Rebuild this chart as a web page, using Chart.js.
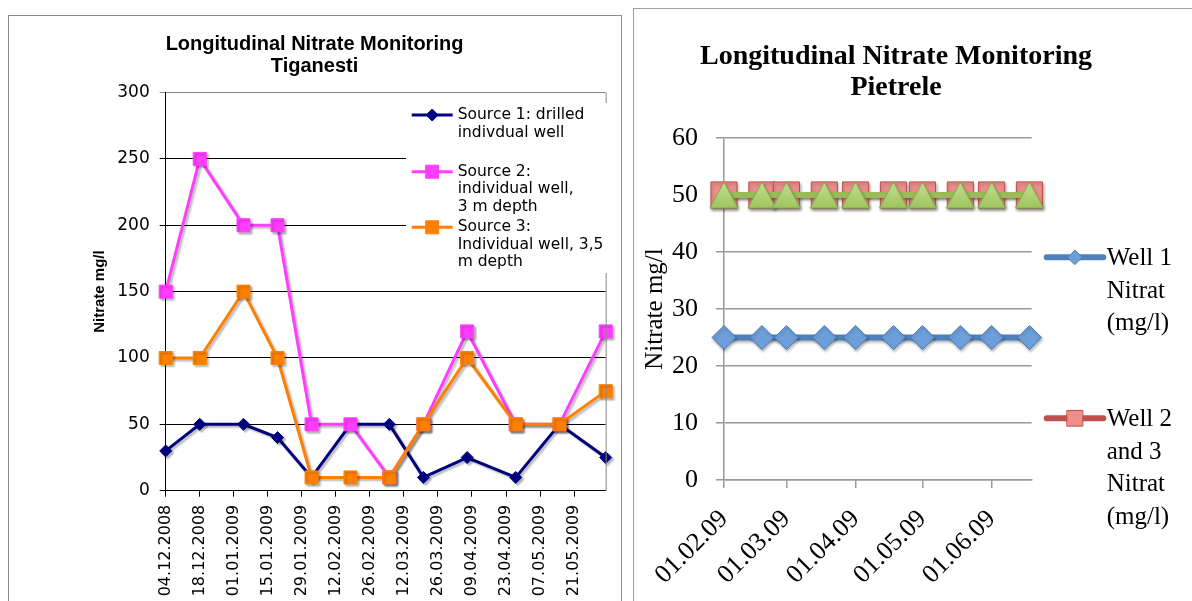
<!DOCTYPE html>
<html>
<head>
<meta charset="utf-8">
<title>Longitudinal Nitrate Monitoring</title>
<script src="https://cdn.jsdelivr.net/npm/chart.js@4.4.1/dist/chart.umd.min.js"></script>
<style>
  html, body { margin: 0; padding: 0; background: #fff; overflow: hidden; }
  body { width: 1192px; height: 601px; position: relative; }
  .frame { position: absolute; border: 1px solid #8c8c8c; box-sizing: border-box; }
  #frameLeft { left: 8px; top: 15px; width: 614px; height: 640px; }
  #frameRight { left: 633px; top: 8px; width: 620px; height: 640px; border-color: #a0a0a0; }
  canvas { position: absolute; }
  #tiganesti { left: 9px; top: 16px; }
  #pietrele { left: 600px; top: 9px; }
</style>
</head>
<body>
<div class="frame" id="frameLeft"></div>
<div class="frame" id="frameRight"></div>
<canvas id="tiganesti" width="611" height="585"></canvas>
<canvas id="pietrele" width="592" height="592"></canvas>
<script>
// Tiganesti: sampling dates and nitrate (mg/l) per source
const tiganestiDates = ['04.12.2008', '18.12.2008', '05.01.2009', '19.01.2009', '02.02.2009', '18.02.2009',
  '06.03.2009', '20.03.2009', '07.04.2009', '27.04.2009', '15.05.2009', '03.06.2009'];
const source1 = [30, 50, 50, 40, 10, 50, 50, 10, 25, 10, 50, 25];
const source2 = [150, 250, 200, 200, 50, 50, 10, 50, 120, 50, 50, 120];
const source3 = [100, 100, 150, 100, 10, 10, 10, 50, 100, 50, 50, 75];
const tiganestiTicks = ['04.12.2008', '18.12.2008', '01.01.2009', '15.01.2009', '29.01.2009', '12.02.2009',
  '26.02.2009', '12.03.2009', '26.03.2009', '09.04.2009', '23.04.2009', '07.05.2009', '21.05.2009'];
const tiganestiLegend = [
  ['Source 1: drilled', 'indivdual well'],
  ['Source 2:', 'individual well,', '3 m depth'],
  ['Source 3:', 'Individual well, 3,5', 'm depth']
];
const tiganestiTitle = ['Longitudinal Nitrate Monitoring', 'Tiganesti'];

// Pietrele
const pietreleDates = ['01.02.09', '18.02.09', '01.03.09', '18.03.09', '01.04.09', '18.04.09',
  '01.05.09', '18.05.09', '01.06.09', '18.06.09'];
const well1 = [25, 25, 25, 25, 25, 25, 25, 25, 25, 25];
const well23 = [50, 50, 50, 50, 50, 50, 50, 50, 50, 50];
const well23b = [50, 50, 50, 50, 50, 50, 50, 50, 50, 50];
const pietreleTicks = ['01.02.09', '01.03.09', '01.04.09', '01.05.09', '01.06.09'];
const pietreleLegend = [
  ['Well 1', 'Nitrat', '(mg/l)'],
  ['Well 2', 'and 3', 'Nitrat', '(mg/l)']
];
const pietreleTitle = ['Longitudinal Nitrate Monitoring', 'Pietrele'];

// day number of a dd.mm.yy(yy) string
function toDay(s) {
  const [d, m, y] = s.split('.').map(Number);
  return Date.UTC(y < 100 ? 2000 + y : y, m - 1, d) / 864e5;
}
const daysFrom = (list, base) => list.map((s) => toDay(s) - toDay(base));
const points = (days, values) => days.map((x, i) => ({ x: x, y: values[i] }));

const tigDays = daysFrom(tiganestiDates, tiganestiDates[0]);
const tigTickDays = daysFrom(tiganestiTicks, tiganestiDates[0]);
const pieDays = daysFrom(pietreleDates, pietreleDates[0]);
const pieTickDays = daysFrom(pietreleTicks, pietreleDates[0]);

// triangle marker centred on its box (chart.js centres the built-in one on the centroid)
function triangleMarker(w, h, fill, stroke) {
  const c = document.createElement('canvas');
  c.width = w + 2;
  c.height = h + 2;
  const g = c.getContext('2d');
  const grad = g.createLinearGradient(0, 1, 0, h + 1);
  grad.addColorStop(0, '#c3dd93');
  grad.addColorStop(1, fill);
  g.fillStyle = grad;
  g.strokeStyle = stroke;
  g.lineWidth = 1;
  g.beginPath();
  g.moveTo(c.width / 2, 1);
  g.lineTo(w + 1, h + 1);
  g.lineTo(1, h + 1);
  g.closePath();
  g.fill();
  g.stroke();
  return c;
}

// soft grey drop shadow under lines and markers, like the office charts
const lineShadow = {
  id: 'lineShadow',
  beforeDatasetDraw(chart, args, opts) {
    const ctx = chart.ctx;
    ctx.save();
    ctx.shadowColor = opts.color;
    ctx.shadowBlur = opts.blur;
    ctx.shadowOffsetX = opts.x;
    ctx.shadowOffsetY = opts.y;
  },
  afterDatasetDraw(chart) {
    chart.ctx.restore();
  }
};

// legend with wrapped labels, placed by hand
const wrapLegend = {
  id: 'wrapLegend',
  afterDraw(chart, args, opts) {
    const ctx = chart.ctx;
    const area = chart.chartArea;
    ctx.save();
    if (opts.border) {
      ctx.strokeStyle = opts.border;
      ctx.lineWidth = 1;
      ctx.beginPath();
      ctx.moveTo(area.right + 0.5, area.top);
      ctx.lineTo(area.right + 0.5, area.bottom);
      ctx.stroke();
    }
    if (opts.box) {
      ctx.fillStyle = '#fff';
      ctx.fillRect(opts.box.x, opts.box.y, opts.box.w, opts.box.h);
    }
    opts.items.forEach((item) => {
      const ds = chart.data.datasets[item.dataset];
      const cx = opts.x + opts.sampleWidth / 2;
      ctx.strokeStyle = ds.borderColor;
      ctx.lineWidth = ds.borderWidth;
      ctx.lineCap = opts.lineCap;
      ctx.beginPath();
      ctx.moveTo(opts.x, item.y);
      ctx.lineTo(opts.x + opts.sampleWidth, item.y);
      ctx.stroke();
      ctx.fillStyle = ds.pointBackgroundColor || ds.backgroundColor;
      ctx.strokeStyle = ds.pointBorderColor || ds.borderColor;
      ctx.lineWidth = 1;
      Chart.helpers.drawPoint(ctx, {
        pointStyle: ds.pointStyle, rotation: 0, borderWidth: 1,
        radius: ds.pointRadius * opts.pointScale
      }, cx, item.y);
      ctx.fillStyle = '#000';
      ctx.font = opts.font;
      ctx.textAlign = 'left';
      ctx.textBaseline = 'middle';
      item.lines.forEach((line, i) => {
        ctx.fillText(line, opts.x + opts.sampleWidth + opts.gap, item.y + opts.textShift + i * opts.lineHeight);
      });
    });
    ctx.restore();
  }
};

new Chart(document.getElementById('tiganesti'), {
  type: 'line',
  data: {
    datasets: [
      {
        label: tiganestiLegend[0].join(' '),
        data: points(tigDays, source1),
        borderColor: '#000080', backgroundColor: '#000080',
        pointStyle: 'rectRot', pointRadius: 6, pointBorderWidth: 1,
        borderWidth: 3, order: 3, clip: false
      },
      {
        label: tiganestiLegend[1].join(' '),
        data: points(tigDays, source2),
        borderColor: '#ff3cff', backgroundColor: '#ff3cff',
        pointStyle: 'rect', pointRadius: 9.2, pointBorderWidth: 1,
        borderWidth: 3, order: 2, clip: false
      },
      {
        label: tiganestiLegend[2].join(' '),
        data: points(tigDays, source3),
        borderColor: '#ff8000', backgroundColor: '#ff8000',
        pointStyle: 'rect', pointRadius: 9.2, pointBorderWidth: 1,
        borderWidth: 3, order: 1, clip: false
      }
    ]
  },
  options: {
    responsive: false,
    animation: false,
    events: [],
    layout: { padding: 0 },
    scales: {
      x: {
        type: 'linear',
        min: 0,
        max: tigDays[tigDays.length - 1],
        afterBuildTicks: (scale) => { scale.ticks = tigTickDays.map((value) => ({ value })); },
        afterFit: (scale) => { scale.height = 110.3; },
        grid: { drawOnChartArea: false, tickLength: 6, color: '#000' },
        border: { color: '#000' },
        ticks: {
          autoSkip: false, minRotation: 90, maxRotation: 90, padding: 8, color: '#000',
          font: { family: 'DejaVu Sans', size: 16 },
          callback: (value, index) => tiganestiTicks[index]
        }
      },
      y: {
        min: 0,
        max: 300,
        afterFit: (scale) => { scale.width = 156.7; },
        grid: {
          tickLength: 6,
          color: (ctx) => (ctx.tick && ctx.tick.value === 300 ? '#888' : '#000')
        },
        border: { color: '#000' },
        ticks: { stepSize: 50, padding: 10, color: '#000', font: { family: 'DejaVu Sans', size: 17 } },
        title: {
          display: true, text: 'Nitrate mg/l', color: '#000',
          font: { family: 'Liberation Sans', size: 15, weight: 'bold' },
          padding: { top: 82, bottom: 0 }
        }
      },
      side: {
        position: 'right',
        afterFit: (scale) => { scale.width = 14.3; },
        grid: { display: false },
        border: { display: false },
        ticks: { display: false }
      }
    },
    plugins: {
      legend: { display: false },
      tooltip: { enabled: false },
      title: {
        display: true, text: tiganestiTitle, color: '#000',
        font: { family: 'Liberation Sans', size: 20, weight: 'bold', lineHeight: 1.1 },
        padding: { top: 17.5, bottom: 15 }
      },
      lineShadow: { color: 'rgba(0,0,0,0.28)', blur: 2, x: 2, y: 2 },
      wrapLegend: {
        border: '#888',
        box: { x: 397, y: 87, w: 210, h: 170 },
        x: 402.7, sampleWidth: 41, gap: 5, lineCap: 'butt', pointScale: 1,
        font: '15.5px "DejaVu Sans"', lineHeight: 17.5, textShift: 0,
        items: [
          { dataset: 0, y: 99, lines: tiganestiLegend[0] },
          { dataset: 1, y: 155.7, lines: tiganestiLegend[1] },
          { dataset: 2, y: 211.3, lines: tiganestiLegend[2] }
        ]
      }
    }
  },
  plugins: [lineShadow, wrapLegend]
});

new Chart(document.getElementById('pietrele'), {
  type: 'line',
  data: {
    datasets: [
      {
        label: pietreleLegend[0].join(' '),
        data: points(pieDays, well1),
        borderColor: '#4f81bd', pointBackgroundColor: '#6e9fda', pointBorderColor: '#4a7ebb',
        pointStyle: 'rectRot', pointRadius: 12, pointBorderWidth: 1,
        borderWidth: 6, order: 3, clip: false
      },
      {
        label: pietreleLegend[1].join(' '),
        data: points(pieDays, well23),
        borderColor: '#c0504d', pointBackgroundColor: '#ec8f8b', pointBorderColor: '#c0504d',
        pointStyle: 'rect', pointRadius: 18.5, pointBorderWidth: 1,
        borderWidth: 6, order: 2, clip: false
      },
      {
        label: 'Series 3',
        data: points(pieDays, well23b),
        borderColor: '#9bbb59', pointBackgroundColor: '#a9cc69', pointBorderColor: '#86a74a',
        pointStyle: triangleMarker(28, 26, '#9fc55e', '#86a74a'), pointRadius: 16.5, pointBorderWidth: 1,
        borderWidth: 6, order: 1, clip: false
      }
    ]
  },
  options: {
    responsive: false,
    animation: false,
    events: [],
    layout: { padding: 0 },
    scales: {
      x: {
        type: 'linear',
        min: 0,
        max: pieDays[pieDays.length - 1] + 1,
        afterBuildTicks: (scale) => { scale.ticks = pieTickDays.map((value) => ({ value })); },
        afterFit: (scale) => { scale.height = 121; },
        grid: { drawOnChartArea: false, tickLength: 8, color: '#999', lineWidth: 1.5 },
        border: { color: '#999', width: 1.5 },
        ticks: {
          autoSkip: false, minRotation: 45, maxRotation: 45, padding: 16, color: '#000',
          font: { family: 'Liberation Serif', size: 26 },
          callback: (value, index) => pietreleTicks[index]
        }
      },
      y: {
        min: 0,
        max: 60,
        afterFit: (scale) => { scale.width = 124; },
        grid: { tickLength: 8, color: '#999', lineWidth: 1.5 },
        border: { color: '#999', width: 1.5 },
        ticks: { stepSize: 10, padding: 18, color: '#000', font: { family: 'Liberation Serif', size: 26 } },
        title: {
          display: true, text: 'Nitrate mg/l', color: '#000',
          font: { family: 'Liberation Serif', size: 25 },
          padding: { top: 40, bottom: 0 }
        }
      },
      side: {
        position: 'right',
        afterFit: (scale) => { scale.width = 160.3; },
        grid: { display: false },
        border: { display: false },
        ticks: { display: false }
      }
    },
    plugins: {
      legend: { display: false },
      tooltip: { enabled: false },
      title: {
        display: true, text: pietreleTitle, color: '#000',
        font: { family: 'Liberation Serif', size: 28, weight: 'bold', lineHeight: 1.1 },
        padding: { top: 32.6, bottom: 34.8 }
      },
      lineShadow: { color: 'rgba(0,0,0,0.3)', blur: 3, x: 1, y: 2 },
      wrapLegend: {
        x: 446.7, sampleWidth: 56.6, gap: 3.4, lineCap: 'round', pointScale: 0.6,
        font: '25px "Liberation Serif"', lineHeight: 32.5, textShift: 1.5,
        items: [
          { dataset: 0, y: 248.3, lines: pietreleLegend[0] },
          { dataset: 1, y: 409.3, lines: pietreleLegend[1] }
        ]
      }
    }
  },
  plugins: [lineShadow, wrapLegend]
});
</script>
</body>
</html>
